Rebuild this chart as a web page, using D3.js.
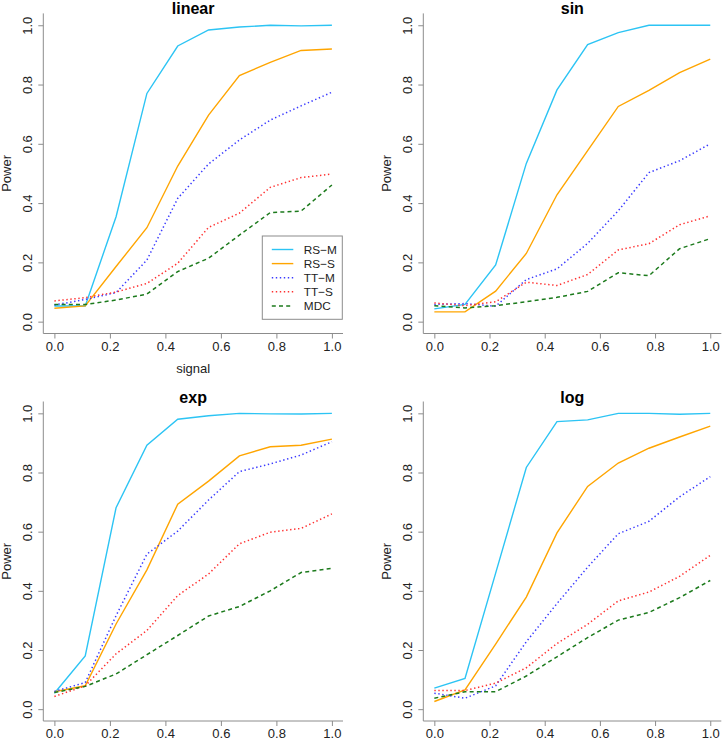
<!DOCTYPE html>
<html>
<head>
<meta charset="utf-8">
<title>Power curves</title>
<script src="https://d3js.org/d3.v7.min.js"></script>
<style>
  body { margin: 0; background: #fff; }
  svg { display: block; font-family: "Liberation Sans", Arial, Helvetica, sans-serif; }
  .axis_line { stroke: #8c8c8c; stroke-width: 1; fill: none; }
  .tick_text { font-size: 13px; fill: #222; }
  .lab { font-size: 13px; fill: #222; }
  .title { font-size: 16px; font-weight: bold; fill: #000; }
  .legend_text { font-size: 11.8px; fill: #222; }
</style>
</head>
<body>
<div id="chart"></div>
<script>
// signal levels (10 points from 0 to 1)
const signal = [0, 1/9, 2/9, 3/9, 4/9, 5/9, 6/9, 7/9, 8/9, 1];
const xTicks = [0, 0.2, 0.4, 0.6, 0.8, 1];
const yTicks = [0, 0.2, 0.4, 0.6, 0.8, 1];

const methods = ["RS\u2212M", "RS\u2212S", "TT\u2212M", "TT\u2212S", "MDC"];
const panelNames = ["linear", "sin", "exp", "log"];

// power values, one array per method, per panel
const linear_rsm = [0.053, 0.053, 0.354, 0.770, 0.930, 0.984, 0.994, 1.000, 0.998, 1.000];
const linear_rss = [0.045, 0.053, 0.186, 0.317, 0.525, 0.697, 0.830, 0.875, 0.915, 0.920];
const linear_ttm = [0.056, 0.075, 0.098, 0.208, 0.416, 0.532, 0.613, 0.680, 0.728, 0.774];
const linear_tts = [0.070, 0.081, 0.100, 0.129, 0.197, 0.318, 0.366, 0.453, 0.486, 0.498];
const linear_mdc = [0.058, 0.058, 0.073, 0.093, 0.169, 0.214, 0.292, 0.368, 0.373, 0.461];

const sin_rsm = [0.043, 0.058, 0.191, 0.534, 0.782, 0.935, 0.975, 1.000, 1.000, 1.000];
const sin_rss = [0.033, 0.033, 0.103, 0.230, 0.428, 0.577, 0.726, 0.780, 0.840, 0.886];
const sin_ttm = [0.058, 0.061, 0.052, 0.142, 0.178, 0.264, 0.374, 0.503, 0.543, 0.600];
const sin_tts = [0.063, 0.054, 0.067, 0.133, 0.122, 0.159, 0.242, 0.263, 0.327, 0.357];
const sin_mdc = [0.054, 0.046, 0.054, 0.067, 0.082, 0.102, 0.165, 0.155, 0.246, 0.280];

const exp_rsm = [0.054, 0.180, 0.681, 0.892, 0.980, 0.992, 1.000, 0.998, 0.998, 1.000];
const exp_rss = [0.059, 0.079, 0.288, 0.471, 0.693, 0.771, 0.856, 0.887, 0.892, 0.913];
const exp_ttm = [0.060, 0.090, 0.316, 0.524, 0.602, 0.707, 0.803, 0.829, 0.859, 0.904];
const exp_tts = [0.043, 0.079, 0.187, 0.266, 0.384, 0.457, 0.559, 0.598, 0.611, 0.660];
const exp_mdc = [0.056, 0.077, 0.119, 0.184, 0.249, 0.315, 0.347, 0.400, 0.462, 0.476];

const log_rsm = [0.071, 0.104, 0.460, 0.817, 0.972, 0.978, 1.000, 1.000, 0.997, 1.000];
const log_rss = [0.026, 0.065, 0.220, 0.379, 0.596, 0.753, 0.832, 0.882, 0.920, 0.957];
const log_ttm = [0.054, 0.037, 0.079, 0.228, 0.357, 0.480, 0.593, 0.635, 0.718, 0.786];
const log_tts = [0.063, 0.063, 0.088, 0.140, 0.222, 0.287, 0.366, 0.396, 0.449, 0.520];
const log_mdc = [0.037, 0.059, 0.059, 0.112, 0.177, 0.242, 0.301, 0.327, 0.377, 0.435];

const panelData = [
  [linear_rsm, linear_rss, linear_ttm, linear_tts, linear_mdc],
  [sin_rsm, sin_rss, sin_ttm, sin_tts, sin_mdc],
  [exp_rsm, exp_rss, exp_ttm, exp_tts, exp_mdc],
  [log_rsm, log_rss, log_ttm, log_tts, log_mdc]
];

// line styles per method
const colors = ["#2cc4f4", "#ffa500", "#3a3aff", "#ff3030", "#1c7a1c"];
const dashes = [null, null, "1.4,2.6", "1.4,2.6", "4,3.2"];
const widths = [1.4, 1.4, 1.5, 1.5, 1.5];

const W = 722, H = 741;
const colX = [[43.3, 343], [423.3, 721.3]];
const rowY = [[13.4, 333.5], [401.5, 721]];

const svg = d3.select("#chart").append("svg")
    .attr("width", W)
    .attr("height", H);

panelNames.forEach((name, p) => {
  const [x0, x1] = colX[p % 2];
  const [y0, y1] = rowY[Math.floor(p / 2)];

  const x = d3.scaleLinear().domain([-0.04, 1.04]).range([x0, x1]);
  const y = d3.scaleLinear().domain([-0.04, 1.04]).range([y1, y0]);

  const g = svg.append("g");

  // L-shaped box
  g.append("path")
      .attr("class", "axis_line")
      .attr("d", `M${x0},${y0}V${y1}H${x1}`);

  // x axis
  const xa = g.append("g").attr("transform", `translate(0,${y1})`)
      .call(d3.axisBottom(x).tickValues(xTicks).tickSize(5).tickFormat(d3.format(".1f")));
  xa.select(".domain").remove();
  xa.selectAll("line").attr("stroke", "#8c8c8c");
  xa.selectAll("text").attr("class", "tick_text").attr("y", 8).attr("dy", "0.71em")
      .attr("font-family", null).attr("font-size", null).attr("fill", null);

  // y axis, labels parallel to the axis
  const ya = g.append("g").attr("transform", `translate(${x0},0)`)
      .call(d3.axisLeft(y).tickValues(yTicks).tickSize(5).tickFormat(d3.format(".1f")));
  ya.select(".domain").remove();
  ya.selectAll("line").attr("stroke", "#8c8c8c");
  ya.selectAll("text")
      .attr("class", "tick_text")
      .attr("x", null).attr("dy", null)
      .attr("transform", "translate(-11.5,0) rotate(-90)")
      .attr("text-anchor", "middle")
      .attr("font-family", null).attr("font-size", null).attr("fill", null);

  // series
  const line = d3.line().x((d, i) => x(signal[i])).y(d => y(d));
  panelData[p].forEach((vals, m) => {
    g.append("path")
        .datum(vals)
        .attr("fill", "none")
        .attr("stroke", colors[m])
        .attr("stroke-width", widths[m])
        .attr("stroke-dasharray", dashes[m])
        .attr("d", line);
  });

  // title and axis labels
  g.append("text").attr("class", "title")
      .attr("x", (x0 + x1) / 2).attr("y", y0 + 1)
      .attr("text-anchor", "middle").text(name);

  g.append("text").attr("class", "lab")
      .attr("transform", `translate(${x0 - 32},${(y0 + y1) / 2}) rotate(-90)`)
      .attr("text-anchor", "middle").text("Power");

  if (p === 0) {
    g.append("text").attr("class", "lab")
        .attr("x", (x0 + x1) / 2).attr("y", y1 + 39)
        .attr("text-anchor", "middle").text("signal");

    // legend (bottom right of first panel)
    const lx = x1 - 80.7, ly = y1 - 97.5;
    const leg = g.append("g").attr("transform", `translate(${lx},${ly})`);
    leg.append("rect")
        .attr("width", 80).attr("height", 83.3)
        .attr("fill", "#fff").attr("stroke", "#8c8c8c").attr("stroke-width", 1);
    methods.forEach((mname, m) => {
      const ry = 13.5 + m * 14.1;
      leg.append("line")
          .attr("x1", 9.5).attr("x2", 31)
          .attr("y1", ry).attr("y2", ry)
          .attr("stroke", colors[m])
          .attr("stroke-width", widths[m])
          .attr("stroke-dasharray", dashes[m]);
      leg.append("text").attr("class", "legend_text")
          .attr("x", 41.5).attr("y", ry).attr("dy", "0.36em")
          .text(mname);
    });
  }
});
</script>
</body>
</html>
